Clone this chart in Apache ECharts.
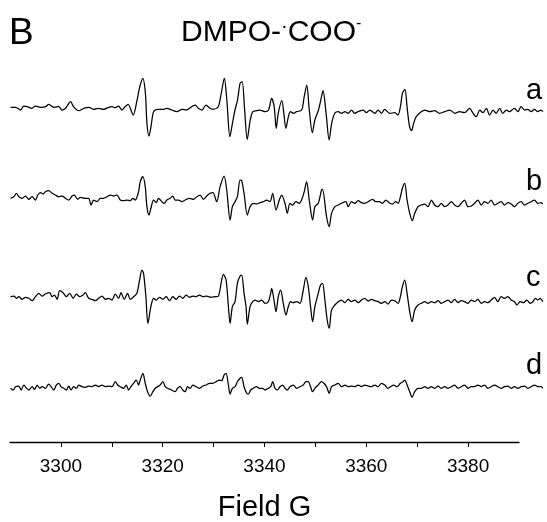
<!DOCTYPE html>
<html><head><meta charset="utf-8">
<script src="https://cdn.jsdelivr.net/npm/echarts@6/dist/echarts.min.js"></script>
<style>html,body{margin:0;padding:0;background:#fff}#c{width:547px;height:522px}</style>
</head><body><div id="c"></div>
<script>
// Field (G) and signal intensity (a.u.)
const traceA = [[3290.1,0.7],[3291.1,0.7],[3292.1,-2],[3292.7,2],[3293.4,1.3],[3294.3,-0.3],[3295.0,2],[3296.0,0.7],[3297.0,1.3],[3297.6,3.7],[3298.6,0.7],[3299.6,1.3],[3300.2,-2],[3300.9,-0.3],[3301.9,6.3],[3302.5,1.3],[3303.5,-2.7],[3304.5,-0.3],[3305.5,0.7],[3306.4,-1.3],[3307.4,-0.3],[3308.4,-1.3],[3309.4,0.7],[3310.0,1.3],[3310.7,0.3],[3311.3,2],[3312.0,-2],[3312.6,1.3],[3313.2,3.7],[3314.2,-7],[3314.9,6.3],[3315.5,21.3],[3316.1,29.7],[3316.6,14.7],[3316.9,-15.3],[3317.3,-28],[3317.7,-18.7],[3318.1,-5.3],[3318.5,-2],[3319.2,-1.3],[3320.2,-1.3],[3320.8,-0.3],[3321.8,-2],[3322.8,-3.7],[3323.8,-1.3],[3324.7,-2],[3325.7,1.3],[3326.4,3],[3327.0,-0.3],[3327.7,-2],[3328.5,3],[3329.3,-0.3],[3329.9,-1.3],[3330.9,1.3],[3331.5,14.7],[3332.1,29.7],[3332.6,8],[3333.2,-28.7],[3333.7,-15.3],[3334.2,-2],[3334.7,8],[3335.2,24.7],[3335.6,26.3],[3336.1,-2],[3336.6,-31.3],[3337.2,-12],[3337.7,-3.7],[3338.5,-2.7],[3339.1,-2],[3340.1,-3.7],[3340.8,-2],[3341.4,9.7],[3341.9,1.3],[3342.3,-20.3],[3342.7,-5.3],[3343.4,7.3],[3343.8,-5.3],[3344.2,-20.3],[3344.7,-8.7],[3345.1,-3.7],[3345.7,-5.3],[3346.3,-3.7],[3347.3,-2],[3347.8,11.3],[3348.3,23],[3348.8,-2],[3349.4,-24.7],[3349.9,-12],[3350.6,-2],[3351.2,11.3],[3351.5,17.3],[3352.1,-5.3],[3352.7,-32],[3353.2,-15.3],[3353.8,-5.3],[3354.5,-3.7],[3355.1,-5.3],[3355.8,-3.7],[3356.4,-5.3],[3357.1,-2],[3357.7,-5.3],[3358.4,-3.7],[3359.4,-2],[3360.0,-4.7],[3360.7,-2],[3361.7,-5.3],[3362.3,-2],[3363.0,-5.3],[3363.6,-1.3],[3364.6,-5.3],[3365.6,-4.7],[3366.2,-7],[3366.7,1.3],[3367.1,14.7],[3367.6,18.7],[3368.0,1.3],[3368.5,-18.7],[3368.9,-22.7],[3369.3,-15.3],[3369.8,-8.7],[3370.8,-3.7],[3371.5,-2],[3372.5,-3.7],[3373.4,-2.7],[3374.4,-5.3],[3375.4,-3.7],[3376.4,-2],[3377.4,-5.3],[3378.3,-3.7],[3379.3,-4.7],[3380.3,-0.3],[3380.9,-4.7],[3381.6,-8.7],[3382.3,-2],[3382.9,-4.7],[3383.6,-0.3],[3384.2,-7],[3384.9,-2],[3385.5,-5.3],[3386.2,-0.3],[3386.8,-5.3],[3387.5,-2],[3388.1,-3.7],[3389.1,-0.3],[3389.8,-3.7],[3390.4,1.3],[3391.1,-2],[3391.7,-1.3],[3392.4,-3.7],[3393.0,-1.3],[3393.7,-3.7],[3394.3,-2],[3394.7,-3.7]];

const traceB = [[3290.1,-0.3],[3290.75,1.3],[3291.27,4.7],[3291.73,1.3],[3292.39,-0.3],[3293.04,2],[3293.69,-1.3],[3294.35,1.3],[3295.0,-2],[3295.46,3],[3295.98,5.3],[3296.5,4],[3296.96,6.3],[3297.61,7.3],[3298.27,4.7],[3298.92,3],[3299.58,1.3],[3300.23,2],[3300.88,-0.3],[3301.54,-2],[3302.19,2],[3302.65,3],[3303.3,-1.3],[3303.82,0.7],[3304.8,-0.3],[3305.46,-0.3],[3305.92,-7],[3306.44,-2],[3307.09,-3.7],[3307.75,-0.3],[3308.4,-0.3],[3309.05,1.3],[3309.71,3],[3310.36,2],[3311.01,3],[3311.67,-2],[3312.32,-2.7],[3312.97,-2],[3313.63,-2.7],[3314.15,-0.3],[3314.61,-2],[3315.26,6.3],[3315.59,16.3],[3316.11,21.3],[3316.57,11.3],[3316.9,-8.7],[3317.29,-17],[3317.68,-10.3],[3318.2,-2],[3318.73,-4.7],[3319.18,-0.3],[3319.84,-3.7],[3320.29,-5.3],[3320.82,-2],[3321.47,-0.3],[3321.99,2],[3322.45,-2],[3323.1,-2],[3323.76,-3.7],[3324.41,-2],[3325.26,-0.3],[3326.05,-1.3],[3326.7,1.3],[3327.35,3],[3328.01,-1.3],[3328.66,2],[3329.31,4.7],[3329.84,5.3],[3330.62,-3.7],[3331.27,11.3],[3332.06,22],[3332.58,8],[3333.24,-22],[3333.69,-8.7],[3334.21,-3.7],[3334.67,1.3],[3335.2,18],[3335.52,17.3],[3335.98,4.7],[3336.63,-17],[3337.16,-8.7],[3337.81,-5.3],[3338.46,-6],[3339.12,-4.7],[3339.77,-3.7],[3340.42,-2],[3341.08,-3.7],[3341.6,4.7],[3342.26,-12],[3342.91,-2],[3343.37,3],[3344.02,-5.3],[3344.48,-15.3],[3345.0,-5.3],[3345.52,-7],[3346.18,-3.7],[3346.83,-5.3],[3347.29,-2],[3347.81,6.3],[3348.27,16.3],[3348.79,-2],[3349.45,-22],[3349.9,-8.7],[3350.56,-5.3],[3351.21,8],[3351.4,8.7],[3352.19,-18.7],[3352.71,-28.7],[3353.17,-15.3],[3353.83,-8.7],[3354.48,-7],[3355.13,-5.3],[3355.98,-3.7],[3356.44,-8.7],[3357.09,-3.7],[3357.75,-5.3],[3358.4,-2.7],[3359.05,-4.7],[3359.71,-5.3],[3360.36,-3.7],[3361.21,-1.3],[3361.86,-3.7],[3362.52,-3.7],[3363.17,-5.3],[3363.83,-2],[3364.48,-4.7],[3365.13,-6],[3365.79,-3.7],[3366.24,-5.3],[3366.7,1.3],[3367.09,9.7],[3367.55,14.7],[3368.01,-2],[3368.53,-15.3],[3369.05,-22.7],[3369.51,-15.3],[3370.16,-8.7],[3370.82,-7],[3371.47,-6],[3372.13,-8.7],[3372.78,-2],[3373.43,-7],[3374.09,-8.7],[3374.74,-5.3],[3375.39,-8.7],[3376.05,-7],[3376.7,-3.7],[3377.35,-7],[3378.01,-8.7],[3378.66,-5.3],[3379.32,-2],[3379.97,-8.7],[3380.62,-8],[3381.28,-5.3],[3381.93,-2],[3382.58,-7],[3383.24,-3.7],[3383.89,-5.3],[3384.54,-2],[3385.2,-7],[3385.85,-5.3],[3386.5,-3.7],[3387.16,-7],[3387.81,-4.7],[3388.46,-6],[3389.12,-8.7],[3389.77,-5.3],[3390.42,-3.7],[3391.08,-7],[3391.73,-5.3],[3392.39,-3.7],[3393.04,-2],[3393.69,-5.3],[3394.35,-4.7],[3394.67,-6]];

const traceC = [[3290.1,1.6],[3290.75,2.3],[3291.27,0],[3291.73,1.6],[3292.39,-1],[3293.04,1],[3293.69,0],[3294.35,-2.4],[3295.0,1.6],[3295.65,5],[3296.31,2.3],[3296.96,4.3],[3297.81,5.6],[3298.27,1.6],[3298.73,3.3],[3299.25,-1],[3299.77,7.6],[3300.42,5.6],[3301.08,1.6],[3301.73,5],[3302.39,0],[3303.04,4.3],[3303.69,1.6],[3304.35,3.3],[3304.8,5.6],[3305.46,0],[3306.11,-1],[3306.76,-2.4],[3307.42,0],[3308.07,2.3],[3308.73,-1],[3309.38,0],[3310.03,-1.7],[3310.69,4.3],[3311.34,0],[3311.8,5.6],[3312.45,-1],[3313.1,5],[3313.63,-1],[3314.28,1.6],[3314.93,5],[3315.46,18.3],[3315.92,28.3],[3316.24,25],[3316.7,1.6],[3317.09,-25],[3317.68,-8.4],[3318.2,0],[3318.73,-1.7],[3319.38,1],[3320.03,-1],[3320.69,1.6],[3321.34,-2.4],[3321.99,1.6],[3322.65,-1],[3323.3,2.3],[3323.95,0],[3324.61,3.3],[3325.26,1],[3325.92,2.3],[3326.57,1.6],[3327.22,3.3],[3327.88,1.6],[3328.66,2.3],[3329.44,1],[3330.29,1.6],[3330.95,2.3],[3331.47,15],[3331.93,24],[3332.45,18.3],[3332.91,-8.4],[3333.24,-25],[3333.69,-8.4],[3334.21,-3.4],[3334.67,15],[3335.2,22.3],[3335.52,23.3],[3335.98,5],[3336.37,-8.4],[3336.63,-25.7],[3337.16,-8.4],[3337.68,-3.4],[3338.14,-1.7],[3338.79,-3.4],[3339.45,-1.7],[3340.1,-5],[3340.75,-3.4],[3341.21,5],[3341.41,10],[3341.86,-1.7],[3342.26,-13.4],[3342.71,1.6],[3343.17,8.3],[3343.69,-5],[3344.22,-16.7],[3344.67,-8.4],[3345.13,-3.4],[3345.66,-4.4],[3346.31,-3.4],[3346.96,-5],[3347.62,8.3],[3348.14,21],[3348.6,11.6],[3349.05,-8.4],[3349.45,-23.4],[3349.9,-8.4],[3350.56,5],[3351.01,13.3],[3351.41,15],[3351.86,-1.7],[3352.32,-21.7],[3352.71,-30],[3353.17,-11.7],[3353.83,-6.7],[3354.48,-3.4],[3355.13,-1.7],[3355.79,-4.4],[3356.44,-1],[3357.09,-3.4],[3357.75,-1.7],[3358.4,-4.4],[3359.05,-1.7],[3359.71,0],[3360.36,-2.7],[3361.01,-1],[3361.67,-2.4],[3362.32,-3.4],[3362.98,-5],[3363.63,-3.4],[3364.28,-5.7],[3364.94,-1.7],[3365.59,-2.4],[3366.24,-5],[3366.7,1.6],[3367.09,11.6],[3367.55,18.3],[3368.01,5],[3368.53,-13.4],[3368.99,-23.4],[3369.51,-11.7],[3370.16,-6.7],[3370.82,-5],[3371.47,-3.4],[3372.13,-5],[3372.78,-3.4],[3373.43,-4.4],[3374.09,-2.4],[3374.74,-5],[3375.39,-3.4],[3376.05,-1.7],[3376.7,-4.4],[3377.35,-1],[3378.01,-4.4],[3378.66,-2.4],[3379.32,-3.4],[3379.97,-5],[3380.62,-1.7],[3381.28,-3.4],[3381.93,-1],[3382.58,-5],[3383.24,-3.4],[3383.89,-4.4],[3384.54,-1.7],[3385.2,1],[3385.85,-3.4],[3386.5,1.6],[3387.16,0],[3387.81,1.6],[3388.46,-1.7],[3389.12,-3.4],[3389.58,-6.7],[3390.23,-3.4],[3390.88,-4.4],[3391.54,-1.7],[3392.19,-5],[3392.71,-3.4],[3393.24,0],[3393.69,-1.7],[3394.15,0],[3394.67,-3.4]];

const traceD = [[3290.1,0],[3290.62,-1.7],[3291.08,1.6],[3291.73,2.3],[3292.19,-1.7],[3292.71,3.3],[3293.24,0],[3293.69,-1.7],[3294.35,1.6],[3294.8,-1],[3295.33,3.3],[3295.85,0],[3296.31,1.6],[3296.96,0],[3297.61,4.3],[3298.07,1.6],[3298.59,-1.7],[3299.12,3.3],[3299.58,5],[3300.03,1.6],[3300.56,0],[3301.08,-1.7],[3301.54,2.3],[3302.0,-1.7],[3302.52,1.6],[3303.04,0],[3303.5,3.3],[3304.15,1.6],[3304.8,1],[3305.46,2.3],[3306.11,1.6],[3306.76,3.3],[3307.42,1.6],[3308.07,3.3],[3308.73,1.6],[3309.38,2.3],[3310.03,1.6],[3310.69,6.6],[3311.14,3.3],[3311.67,1.6],[3312.32,0],[3312.84,3.3],[3313.3,-1.7],[3313.76,1.6],[3314.28,5],[3314.8,8.3],[3315.26,3.3],[3315.59,8.3],[3316.11,15],[3316.57,5],[3317.03,-3.4],[3317.55,-7.7],[3318.07,-3.4],[3318.53,0],[3318.99,1.6],[3319.51,3.3],[3320.03,6.6],[3320.49,1.6],[3320.95,0],[3321.47,-1],[3321.99,-2.4],[3322.45,-3.4],[3322.91,0],[3323.43,1.6],[3323.95,-1.7],[3324.41,-3.4],[3324.87,1.6],[3325.39,0],[3325.92,3.3],[3326.57,1.6],[3327.22,0],[3327.88,2.3],[3328.53,3.3],[3329.18,5],[3329.84,5],[3330.49,6.6],[3331.14,8.3],[3331.6,7.6],[3332.06,13.3],[3332.45,15],[3332.91,3.3],[3333.24,-5.7],[3333.69,0],[3334.21,1.6],[3334.67,6.6],[3335.2,10],[3335.52,11],[3335.98,1.6],[3336.5,-5],[3336.83,-5.7],[3337.29,-1.7],[3337.81,0],[3338.46,1.6],[3338.99,0],[3339.64,0],[3340.1,-1.7],[3340.75,0],[3341.21,1.6],[3341.6,6.6],[3342.06,0],[3342.52,-1.7],[3343.04,1.6],[3343.56,3.3],[3344.02,0],[3344.48,-1.7],[3345.0,1.6],[3345.66,3.3],[3346.31,0],[3346.96,1.6],[3347.62,3.3],[3348.14,6.6],[3348.6,6.6],[3349.05,1.6],[3349.45,-3.4],[3349.9,0],[3350.56,3.3],[3351.21,6.6],[3351.67,5],[3352.19,1.6],[3352.71,-5],[3353.17,1.6],[3353.83,3.3],[3354.48,5],[3355.13,1.6],[3355.79,3.3],[3356.44,1.6],[3357.09,2.3],[3357.75,1.6],[3358.4,3.3],[3359.05,1.6],[3359.71,3.3],[3360.36,2.3],[3361.01,1.6],[3361.67,3.3],[3362.32,1.6],[3362.98,5],[3363.63,3.3],[3364.28,0],[3364.74,1.6],[3365.39,3.3],[3366.05,1.6],[3366.7,5],[3367.22,6.6],[3367.55,8.3],[3368.01,3.3],[3368.53,-3.4],[3368.99,-9],[3369.51,-3.4],[3370.16,0],[3370.82,0],[3371.47,1.6],[3372.13,0],[3372.78,1.6],[3373.43,0],[3374.09,2.3],[3374.74,0],[3375.39,1.6],[3376.05,0],[3376.7,1.6],[3377.35,3.3],[3378.01,0],[3378.66,1.6],[3379.32,3.3],[3379.97,0],[3380.62,1.6],[3381.28,1.6],[3381.93,3.3],[3382.58,1.6],[3383.24,3.3],[3383.89,0],[3384.54,1.6],[3385.2,3.3],[3385.85,1.6],[3386.5,0],[3387.16,1.6],[3387.81,2.3],[3388.46,0],[3389.12,1.6],[3389.77,0],[3390.42,1.6],[3391.08,2.3],[3391.73,0],[3392.39,1.6],[3393.04,3.3],[3393.69,1.6],[3394.35,1.6],[3394.67,0]];

const traceNames = ['a', 'b', 'c', 'd'];
const tickLabels = [3300, 3320, 3340, 3360, 3380];
const fieldMin = 3290, fieldMax = 3390;     // drawn axis range
const dataFieldMax = 3395;                  // spectra run a little past the axis end

// vertical stacking offsets of the traces (a.u.)
const stackOffsets = [334, 244, 143.7, 53.7];

const chart = echarts.init(document.getElementById('c'), null, {renderer: 'canvas'});
const FONT = 'Liberation Sans, Arial, Helvetica, sans-serif';
const traces = [traceA, traceB, traceC, traceD];

const AX_LEFT = 10, AX_WIDTH = 509, PLOT_H = 442;
const dataWidth = AX_WIDTH * (dataFieldMax - fieldMin) / (fieldMax - fieldMin);

const series = traces.map((t, i) => ({
  type: 'line',
  name: traceNames[i],
  xAxisIndex: 1, yAxisIndex: 1,
  data: t.map(p => [p[0], p[1] + stackOffsets[i]]),
  showSymbol: false,
  symbol: 'none',
  clip: false,
  smooth: 0.3,
  lineStyle: {color: '#000', width: 1.25},
  animation: false
}));

const labelY = [91, 182, 278, 366];

chart.setOption({
  backgroundColor: '#fff',
  animation: false,
  grid: [
    {left: AX_LEFT, width: AX_WIDTH, top: 0, height: PLOT_H, containLabel: false, outerBoundsMode: 'none'},
    {left: AX_LEFT, width: dataWidth, top: 0, height: PLOT_H, containLabel: false, outerBoundsMode: 'none'}
  ],
  xAxis: [{
    gridIndex: 0,
    type: 'value', min: fieldMin, max: fieldMax, interval: 10,
    name: 'Field G', nameLocation: 'middle', nameGap: 51,
    nameTextStyle: {fontFamily: FONT, fontSize: 29, color: '#000'},
    axisLine: {show: true, onZero: false, lineStyle: {color: '#000', width: 1.3}},
    axisTick: {show: true, inside: false, length: 5, lineStyle: {color: '#000', width: 1}},
    axisLabel: {
      margin: 15, fontFamily: FONT, fontSize: 19, color: '#000',
      showMinLabel: false, showMaxLabel: false,
      formatter: v => tickLabels.indexOf(v) >= 0 ? String(v) : ''
    },
    splitLine: {show: false}
  }, {
    gridIndex: 1, type: 'value', min: fieldMin, max: dataFieldMax, show: false, splitLine: {show: false}
  }],
  yAxis: [
    {gridIndex: 0, type: 'value', min: 0, max: PLOT_H, show: false, splitLine: {show: false}},
    {gridIndex: 1, type: 'value', min: 0, max: PLOT_H, show: false, splitLine: {show: false}}
  ],
  series: series,
  graphic: [
    {type: 'text', left: 9, top: 15, style: {text: 'B', font: '37px ' + FONT, fill: '#000'}},
    {type: 'text', x: 181, y: 33, style: {
      text: '{m|DMPO-}{s|·}{m|COO}{t|-}',
      textVerticalAlign: 'middle',
      rich: {
        m: {fontFamily: FONT, fontSize: 30, color: '#000', lineHeight: 34},
        s: {fontFamily: FONT, fontSize: 20, color: '#000', verticalAlign: 'top', lineHeight: 34},
        t: {fontFamily: FONT, fontSize: 16, color: '#000', verticalAlign: 'top', lineHeight: 34}
      }
    }}
  ].concat(traceNames.map((n, i) => ({
    type: 'text', x: 526, y: labelY[i],
    style: {text: n, font: '29px ' + FONT, fill: '#000', textVerticalAlign: 'middle'}
  })))
});
</script></body></html>
